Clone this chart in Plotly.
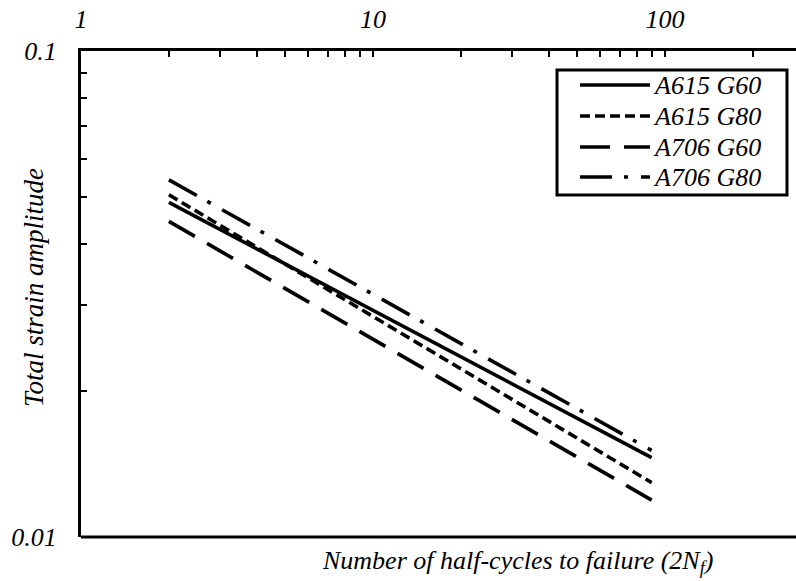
import plotly.graph_objects as go

# ---- data ----
series_names = ["A615 G60", "A615 G80", "A706 G60", "A706 G80"]
half_cycles = [2, 90]
a615_g60 = [0.0488, 0.01456]
a615_g80 = [0.0506, 0.01294]
a706_g60 = [0.0446, 0.01191]
a706_g80 = [0.0543, 0.01507]
series_values = [a615_g60, a615_g80, a706_g60, a706_g80]

x_tickvals = [1, 2, 3, 4, 5, 6, 7, 8, 9, 10, 20, 30, 40, 50, 60, 70, 80, 90, 100, 200]
x_ticklabels = {1: "1", 10: "10", 100: "100"}
y_tickvals = [0.01, 0.02, 0.03, 0.04, 0.05, 0.06, 0.07, 0.08, 0.09, 0.1]
y_ticklabels = {0.01: "0.01", 0.1: "0.1"}

# ---- styles ----
dashes = ["solid", "10px,5px", "30px,14px", "32px,12px,4px,13px"]
FONT = "Liberation Serif"
W, H = 796, 581
L, R, T, B = 81, 0, 51, 44
PW, PH = W - L - R, H - T - B


def px(xp):
    return (xp - L) / PW


def py(yp):
    return (H - B - yp) / PH


fig = go.Figure()
for name, vals, d in zip(series_names, series_values, dashes):
    fig.add_trace(go.Scatter(
        x=half_cycles, y=vals, mode="lines", name=name,
        line=dict(color="black", width=3.6, dash=d),
        showlegend=False, hoverinfo="skip"))

shapes = []
annotations = []
# custom legend
shapes.append(dict(type="rect", xref="paper", yref="paper",
                   x0=px(557), x1=px(787), y0=py(70), y1=py(195),
                   line=dict(color="black", width=3), fillcolor="white"))
legend_y = [85, 116, 147, 177]
for name, d, ly in zip(series_names, dashes, legend_y):
    shapes.append(dict(type="line", xref="paper", yref="paper",
                       x0=px(580), x1=px(650), y0=py(ly), y1=py(ly),
                       line=dict(color="black", width=3.6, dash=d)))
    annotations.append(dict(xref="paper", yref="paper", x=px(651), y=py(ly),
                            text=name, showarrow=False, xanchor="left", yanchor="middle",
                            font=dict(family=FONT, size=26, color="black", style="italic")))
# bottom axis line
shapes.append(dict(type="line", xref="paper", yref="paper", x0=0, x1=1, y0=0, y1=0,
                   line=dict(color="black", width=3)))

annotations.append(dict(xref="paper", yref="paper", x=px(320), y=py(562),
                        text="Number of half-cycles to failure (2N<sub>f</sub>)",
                        showarrow=False, xanchor="left", yanchor="middle",
                        font=dict(family=FONT, size=26, color="black", style="italic")))
annotations.append(dict(xref="paper", yref="paper", x=px(34), y=py(288),
                        text="Total strain amplitude", textangle=-90,
                        showarrow=False, xanchor="center", yanchor="middle",
                        font=dict(family=FONT, size=27, color="black", style="italic")))

fig.update_layout(
    width=W, height=H,
    margin=dict(l=L, r=R, t=T, b=B, pad=0),
    paper_bgcolor="white", plot_bgcolor="white",
    shapes=shapes, annotations=annotations,
    font=dict(family=FONT, size=26, color="black", style="italic"),
    xaxis=dict(type="log", range=[0, PW / 292.0], side="top",
               showline=True, linecolor="black", linewidth=3,
               ticks="inside", ticklen=6, tickwidth=2, tickcolor="black",
               tickvals=x_tickvals,
               ticktext=[x_ticklabels.get(v, "") for v in x_tickvals],
               ticklabelstandoff=10,
               showgrid=False, zeroline=False,
               tickfont=dict(family=FONT, size=26, style="italic")),
    yaxis=dict(type="log", range=[-2, -1],
               showline=True, linecolor="black", linewidth=3,
               ticks="inside", ticklen=6, tickwidth=2, tickcolor="black",
               tickvals=y_tickvals,
               ticktext=[y_ticklabels.get(v, "") for v in y_tickvals],
               ticklabelstandoff=16,
               showgrid=False, zeroline=False,
               tickfont=dict(family=FONT, size=26, style="italic")),
)

fig.write_html("out.html")
